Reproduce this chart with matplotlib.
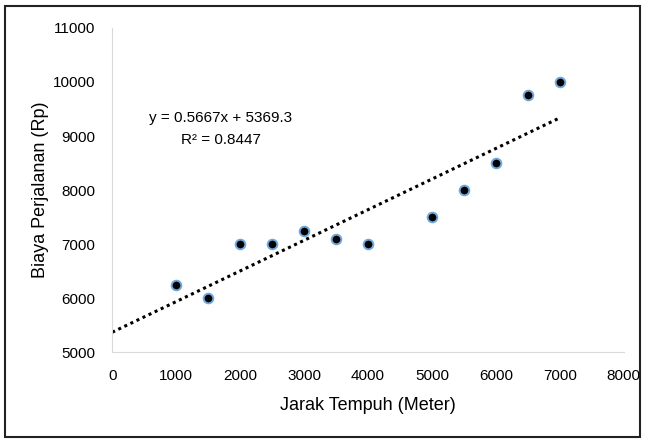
import numpy as np
import matplotlib.pyplot as plt
from matplotlib.patches import Rectangle

# data
jarak = [1000, 1500, 2000, 2500, 3000, 3500, 4000, 5000, 5500, 6000, 6500, 7000]
biaya = [6250, 6000, 7000, 7000, 7250, 7100, 7000, 7500, 8000, 8500, 9750, 10000]

plt.rcParams["font.family"] = ["Liberation Sans", "DejaVu Sans"]

fig = plt.figure(figsize=(6.45, 4.43), dpi=100)
ax = fig.add_axes([0.174, 0.205, 0.793, 0.732])

# garis tren linear
m, c = np.polyfit(jarak, biaya, 1)
xt = np.array([0, max(jarak)])
ax.plot(xt, m * xt + c, color="black", linestyle=(0, (1, 1.2)), linewidth=2.2, zorder=2)

ax.scatter(jarak, biaya, s=48, color="black", edgecolors="#6FA8DC", linewidths=1.4, zorder=3)

ax.text(1700, 9330, f"y = {m:.4f}x + {c:.1f}", ha="center", va="center", fontsize=11)
ax.text(1700, 8930, "R² = 0.8447", ha="center", va="center", fontsize=11)

ax.set_xlim(0, 8000)
ax.set_ylim(5000, 11000)
ax.set_xticks(np.arange(0, 8001, 1000))
ax.set_yticks(np.arange(5000, 11001, 1000))
ax.tick_params(length=0, labelsize=11, pad=12)
ax.tick_params(axis="y", pad=12)
for s in ["top", "right"]:
    ax.spines[s].set_visible(False)
for s in ["left", "bottom"]:
    ax.spines[s].set_color("#d9d9d9")

ax.set_xlabel("Jarak Tempuh (Meter)", fontsize=13, labelpad=10)
ax.set_ylabel("Biaya Perjalanan (Rp)", fontsize=13, labelpad=3)

fig.patches.append(Rectangle((0.008, 0.014), 0.985, 0.972, transform=fig.transFigure,
                             fill=False, edgecolor="#222222", linewidth=1.5))

fig.savefig("out.png", dpi=100)
